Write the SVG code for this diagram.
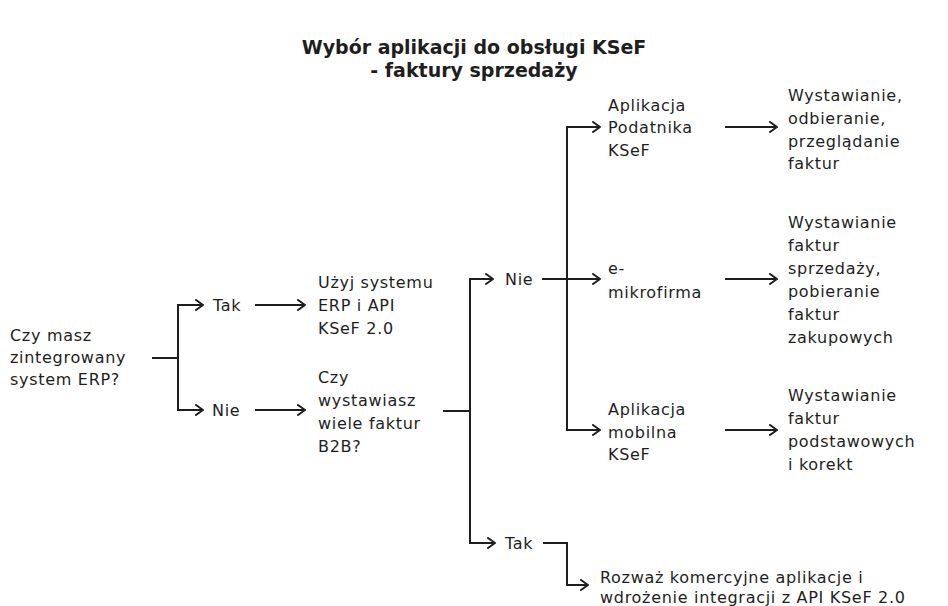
<svg xmlns="http://www.w3.org/2000/svg" width="948" height="606" viewBox="0 0 948 606">
<defs>
<marker id="arr" viewBox="0 0 10 12" refX="9" refY="6" markerWidth="10" markerHeight="12" markerUnits="userSpaceOnUse" orient="auto">
<path d="M2,1 L9,6 L2,11" fill="none" stroke="#1e1e1e" stroke-width="2" stroke-linecap="round" stroke-linejoin="round"/>
</marker>
<style>
.t{font-family:"DejaVu Sans","Noto Sans",sans-serif;font-size:16px;fill:#1e1e1e;letter-spacing:0.7px}
.title{font-family:"DejaVu Sans","Noto Sans",sans-serif;font-size:19px;font-weight:bold;fill:#1e1e1e;text-anchor:middle}
.c{fill:none;stroke:#1e1e1e;stroke-width:2}
.a{marker-end:url(#arr)}
</style>
</defs>
<rect width="948" height="606" fill="#ffffff"/>
<g id="title">
<text class="title" x="474" y="54">Wybór aplikacji do obsługi KSeF</text>
<text class="title" x="474" y="77">- faktury sprzedaży</text>
</g>
<g id="connectors">
<path class="c" d="M152,358 H178"/>
<path class="c a" d="M178,358 V305 H203"/>
<path class="c a" d="M178,358 V410 H203"/>
<path class="c a" d="M255,305 H305"/>
<path class="c a" d="M255,410 H305"/>
<path class="c" d="M443,411 H470"/>
<path class="c a" d="M470,411 V279 H493"/>
<path class="c a" d="M470,411 V543 H495"/>
<path class="c" d="M542,279 H567"/>
<path class="c a" d="M567,279 V127 H600"/>
<path class="c a" d="M567,279 H600"/>
<path class="c a" d="M567,279 V430 H600"/>
<path class="c a" d="M725,127 H777"/>
<path class="c a" d="M725,279 H777"/>
<path class="c a" d="M725,430 H777"/>
<path class="c a" d="M543,543 H567 V585 H588"/>
</g>
<g id="root">
<text class="t" x="10" y="341">Czy masz</text>
<text class="t" x="10" y="363">zintegrowany</text>
<text class="t" x="10" y="385">system ERP?</text>
</g>
<g id="tak1"><text class="t" x="213" y="311">Tak</text></g>
<g id="nie1"><text class="t" x="212" y="416">Nie</text></g>
<g id="erp">
<text class="t" x="318" y="288">Użyj systemu</text>
<text class="t" x="318" y="311">ERP i API</text>
<text class="t" x="318" y="334">KSeF 2.0</text>
</g>
<g id="b2b">
<text class="t" x="318" y="383">Czy</text>
<text class="t" x="318" y="406">wystawiasz</text>
<text class="t" x="318" y="429">wiele faktur</text>
<text class="t" x="318" y="452">B2B?</text>
</g>
<g id="nie2"><text class="t" x="505" y="285">Nie</text></g>
<g id="tak2"><text class="t" x="505" y="549">Tak</text></g>
<g id="podatnika">
<text class="t" x="608" y="111">Aplikacja</text>
<text class="t" x="608" y="133">Podatnika</text>
<text class="t" x="608" y="156">KSeF</text>
</g>
<g id="podatnika-desc">
<text class="t" x="788" y="101">Wystawianie,</text>
<text class="t" x="788" y="124">odbieranie,</text>
<text class="t" x="788" y="147">przeglądanie</text>
<text class="t" x="788" y="169">faktur</text>
</g>
<g id="mikrofirma">
<text class="t" x="608" y="274">e-</text>
<text class="t" x="608" y="298">mikrofirma</text>
</g>
<g id="mikrofirma-desc">
<text class="t" x="788" y="228">Wystawianie</text>
<text class="t" x="788" y="251">faktur</text>
<text class="t" x="788" y="274">sprzedaży,</text>
<text class="t" x="788" y="297">pobieranie</text>
<text class="t" x="788" y="320">faktur</text>
<text class="t" x="788" y="343">zakupowych</text>
</g>
<g id="mobilna">
<text class="t" x="608" y="415">Aplikacja</text>
<text class="t" x="608" y="438">mobilna</text>
<text class="t" x="608" y="460">KSeF</text>
</g>
<g id="mobilna-desc">
<text class="t" x="788" y="401">Wystawianie</text>
<text class="t" x="788" y="424">faktur</text>
<text class="t" x="788" y="447">podstawowych</text>
<text class="t" x="788" y="470">i korekt</text>
</g>
<g id="komercyjne">
<text class="t" x="600" y="583">Rozważ komercyjne aplikacje i</text>
<text class="t" x="600" y="603">wdrożenie integracji z API KSeF 2.0</text>
</g>
</svg>
